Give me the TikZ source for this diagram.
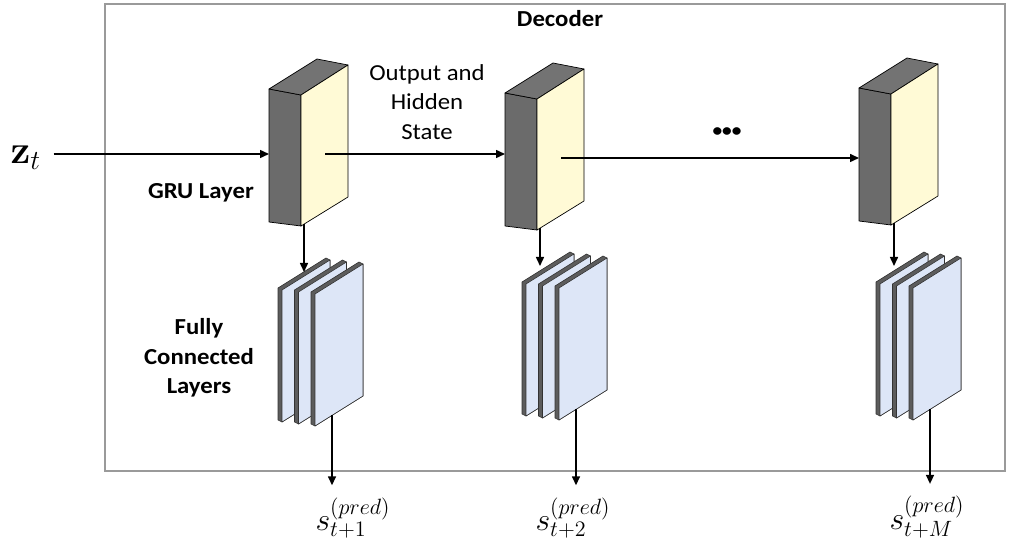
\RequirePackage{fix-cm}
\documentclass[tikz,border=0pt]{standalone}
\usepackage[no-math]{fontspec}
\usepackage{graphicx}
\setmainfont{Carlito}[FakeStretch=1.08]
\usetikzlibrary{arrows.meta}

\definecolor{grudark}{HTML}{6B6B6B}
\definecolor{grutop}{HTML}{737373}
\definecolor{gruface}{HTML}{FFFAD6}
\definecolor{fcface}{HTML}{DDE6F7}
\definecolor{fcedge}{HTML}{5C5C5C}
\definecolor{framegray}{HTML}{9A9A9A}

\tikzset{
  conn/.style={->,line width=1.5bp},
  gruside/.style={fill=grudark,draw=black,line width=0.7bp,line join=round},
  grutopface/.style={fill=grutop,draw=black,line width=0.7bp,line join=round},
  grufront/.style={fill=gruface,draw=black,line width=0.7bp,line join=round},
  fcback/.style={fill=fcedge,draw=black!80,line width=0.6bp,line join=round},
  fcfront/.style={fill=fcface,draw=black!80,line width=0.6bp,line join=round},
  lbl/.style={font=\fontsize{23}{29.5}\selectfont,align=center,inner sep=0pt},
  lblb/.style={lbl,font=\fontsize{23}{29.5}\selectfont\bfseries},
  mathlbl/.style={font=\fontsize{17.28}{20}\selectfont,inner sep=0pt},
}

% GRU block: name, x, y (top left corner of the side face)
\newcommand{\grublock}[3]{%
  \begin{scope}[shift={(#2,#3)}]
    \filldraw[gruside] (0,0) -- (32,6) -- (32,137) -- (0,133) -- cycle;
    \filldraw[grutopface] (0,0) -- (48,-30) -- (79,-24) -- (32,6) -- cycle;
    \filldraw[grufront] (32,6) -- (79,-24) -- (79,108) -- (32,137) -- cycle;
    \coordinate (#1-in) at (0,65);
    \coordinate (#1-out) at (56,65);
    \coordinate (#1-bot) at (35,135);
  \end{scope}}

% stack of three fully connected plates: name, x, y (front face of first plate)
\newcommand{\fcstack}[3]{%
  \begin{scope}[shift={(#2,#3)}]
    \foreach \k in {0,1,2}{
      \begin{scope}[shift={(16.5*\k,2*\k)}]
        \filldraw[fcback] (-4,-2) -- (44,-32) -- (48,-30) -- (48,102) -- (0,132) -- (-4,130) -- cycle;
        \filldraw[fcfront] (0,0) -- (48,-30) -- (48,102) -- (0,132) -- cycle;
      \end{scope}
    }
    \coordinate (#1-in) at (18,-18);
    \coordinate (#1-out) at (50,125);
  \end{scope}}

\newcommand{\predlbl}[1]{\scalebox{1.85}{$s_{#1}^{(pred)}$}}

\begin{document}
\begin{tikzpicture}[x=1bp,y=-1bp,>={Triangle[length=9bp,width=8bp]}]
\useasboundingbox (0,0) rectangle (1010,543);

% decoder frame
\draw[framegray,line width=1.2bp] (105,4) rectangle (1005,471);
\node[lblb] (title) at (560,19) {Decoder};

% blocks
\grublock{gru1}{269}{89}
\grublock{gru2}{505}{93}
\grublock{gru3}{859}{88}
\fcstack{fc1}{282}{290}
\fcstack{fc2}{526}{284}
\fcstack{fc3}{880}{284}

% labels
\node[mathlbl] (zt) at (26,158) {\scalebox{2.3}{$\mathbf{z}_t$}};
\node[lblb] (grulbl) at (201,193) {GRU Layer};
\node[lblb] (fclbl) at (199,358) {Fully\\Connected\\Layers};
\node[lbl] (state) at (427,102) {Output and\\Hidden\\State};
\node[lbl,font=\fontsize{18}{20}\selectfont\bfseries] (dots) at (727,132) {\textbullet\textbullet\textbullet};
\node[mathlbl] (s1) at (353,518) {\predlbl{t+1}};
\node[mathlbl] (s2) at (573,518) {\predlbl{t+2}};
\node[mathlbl] (s3) at (927,517) {\predlbl{t+M}};

% connectors
\draw[conn,shorten <=12bp] (zt.east |- gru1-in) -- (gru1-in);
\draw[conn] (gru1-out) -- (gru1-out -| gru2-in);
\draw[conn] (gru2-out) -- (gru2-out -| gru3-in);
\foreach \i in {1,2,3}{
  \draw[conn] (gru\i-bot) -- (gru\i-bot |- fc\i-in);
  \draw[conn,shorten >=12bp] (fc\i-out) -- (fc\i-out |- s\i.north);
}
\end{tikzpicture}
\end{document}
